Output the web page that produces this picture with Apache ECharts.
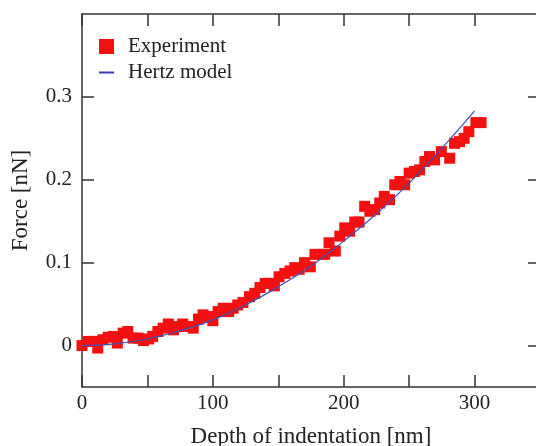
<!DOCTYPE html>
<html>
<head>
<meta charset="utf-8">
<script src="https://cdn.jsdelivr.net/npm/echarts@6/dist/echarts.min.js"></script>
<style>html,body{margin:0;padding:0;background:#fff}#c{width:536px;height:446px}</style>
</head>
<body>
<div id="c"></div>
<script>
const expDepth = [0,4.8,8.6,12,16,20,24,27,31.5,35,39,43,47,51,54,58,62,66,70,73.5,77,81,85,89,92.5,96,100,104,108,112,115.5,119,123,128,132,136,140,143.5,147,150.6,155,159,162.6,166,170,174.5,178,181.7,185.5,188.8,193.6,197,200.8,204.6,208.4,211.7,216,220,223.7,227.5,231,235,239,243,246.6,250,254,258,262,265.6,269.5,274.6,281,284.7,288.5,292,295.6,301,305];
const expForce = [0.000,0.005,0.005,-0.003,0.007,0.010,0.011,0.003,0.015,0.017,0.009,0.009,0.006,0.008,0.011,0.017,0.021,0.026,0.019,0.023,0.026,0.023,0.021,0.032,0.037,0.035,0.030,0.041,0.045,0.041,0.045,0.049,0.052,0.059,0.063,0.070,0.075,0.075,0.072,0.083,0.087,0.090,0.094,0.092,0.100,0.095,0.110,0.110,0.110,0.124,0.114,0.132,0.142,0.138,0.149,0.149,0.168,0.162,0.164,0.172,0.180,0.176,0.194,0.198,0.194,0.208,0.210,0.212,0.222,0.228,0.224,0.234,0.226,0.244,0.246,0.250,0.258,0.269,0.269];
const modelDepth = [0,25,50,75,100,125,150,175,200,225,250,275,300];
const modelForce = [0,0.002,0.008,0.018,0.031,0.049,0.071,0.096,0.126,0.159,0.196,0.238,0.283];
const yTicks = [0,0.1,0.2,0.3];
const xLabels = [0,100,200,300];

const font = 'Liberation Serif';
const axisCol = '#333';
const expData = expDepth.map((d,i)=>[d,expForce[i]]);
const modelData = modelDepth.map((d,i)=>[d,modelForce[i]]);

const chart = echarts.init(document.getElementById('c'), null, {renderer:'canvas'});
const baseX = {
  type:'value', min:0, max:350, interval:50,
  axisLine:{show:true, onZero:false, lineStyle:{color:axisCol, width:1.5}},
  axisTick:{show:true, inside:true, length:12, lineStyle:{color:axisCol, width:1.5}},
  splitLine:{show:false}
};
const baseY = {
  type:'value', min:-0.05, max:0.4,
  axisLine:{show:true, onZero:false, lineStyle:{color:axisCol, width:1.5}},
  axisTick:{show:true, inside:true, length:12, customValues:yTicks, lineStyle:{color:axisCol, width:1.5}},
  splitLine:{show:false}
};
chart.setOption({
  animation:false,
  backgroundColor:'#fff',
  grid:{left:82, top:14, width:458, height:373, containLabel:false, outerBoundsMode:'none'},
  legend:{
    orient:'vertical', left:99, top:36, padding:0, itemWidth:15, itemHeight:15, itemGap:5,
    symbolKeepAspect:true,
    textStyle:{fontFamily:font, fontSize:21, color:'#222', padding:[0,0,0,9]},
    data:[
      {name:'Experiment', icon:'rect'},
      {name:'Hertz model', icon:'path://M0,0 L15,0 L15,2 L0,2 Z'}
    ]
  },
  xAxis:[
    Object.assign({}, baseX, {
      position:'bottom',
      name:'Depth of indentation [nm]', nameLocation:'middle', nameGap:38,
      nameTextStyle:{fontFamily:font, fontSize:23, color:'#222'},
      axisLabel:{show:true, customValues:xLabels, margin:6, fontFamily:font, fontSize:21, color:'#222',
        formatter:v=>String(v)}
    }),
    Object.assign({}, baseX, {position:'top', axisLabel:{show:false}})
  ],
  yAxis:[
    Object.assign({}, baseY, {
      position:'left',
      name:'Force [nN]', nameLocation:'middle', nameGap:50,
      nameTextStyle:{fontFamily:font, fontSize:23, color:'#222'},
      axisLabel:{show:true, customValues:yTicks, margin:10, fontFamily:font, fontSize:21, color:'#222',
        formatter:v=>(v===0?'0':String(Math.round(v*10)/10))}
    }),
    Object.assign({}, baseY, {position:'right', axisLabel:{show:false}})
  ],
  series:[
    {
      name:'Experiment', type:'scatter', xAxisIndex:0, yAxisIndex:0,
      symbol:'rect', symbolSize:11,
      itemStyle:{color:'#f21010', opacity:1},
      data:expData, z:2
    },
    {
      name:'Hertz model', type:'line', xAxisIndex:0, yAxisIndex:0,
      smooth:true, symbol:'none', showSymbol:false,
      lineStyle:{color:'#4050b0', width:1.2},
      itemStyle:{color:'#3a3ab8'},
      data:modelData, z:3
    }
  ]
});
</script>
</body>
</html>
